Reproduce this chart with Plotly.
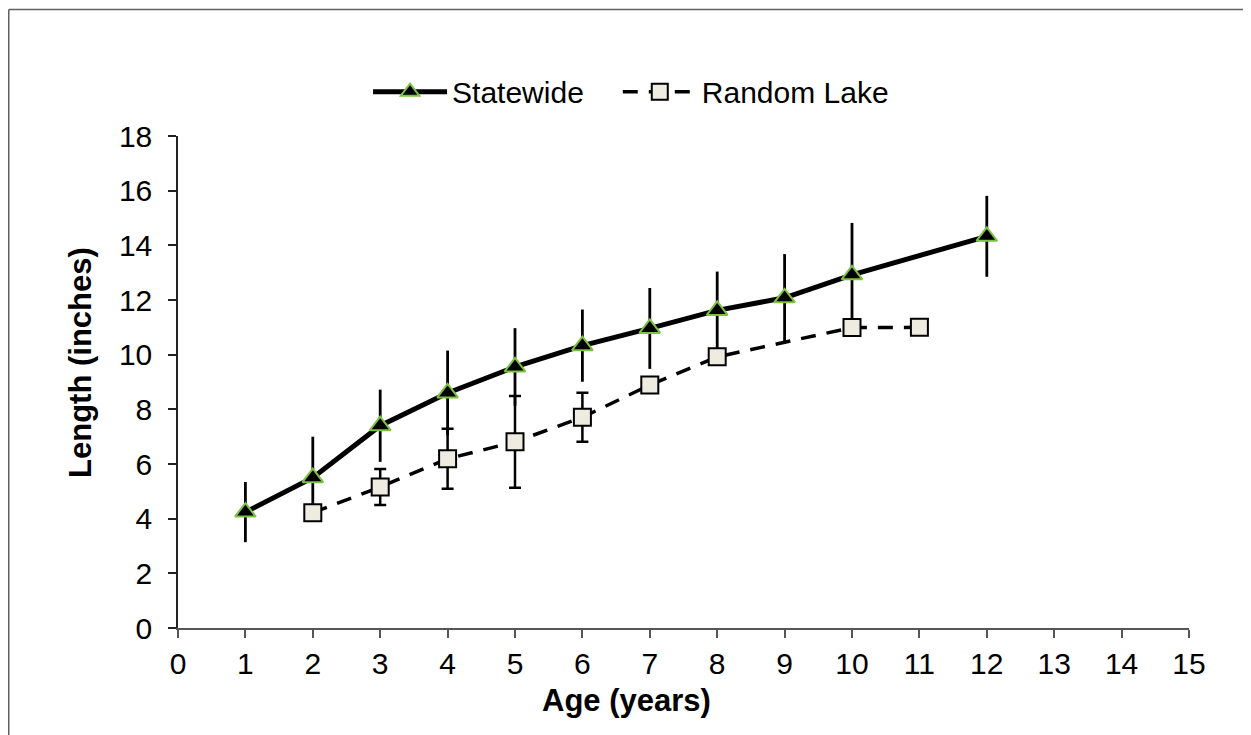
import plotly.graph_objects as go

ages = list(range(1, 13))
statewide = [4.24, 5.5, 7.4, 8.6, 9.55, 10.33, 10.96, 11.62, 12.08, 12.92, None, 14.33]
statewide_err = [1.1, 1.5, 1.32, 1.55, 1.42, 1.32, 1.48, 1.42, 1.6, 1.9, None, 1.48]

rl_ages = list(range(2, 12))
random_lake = [4.22, 5.16, 6.19, 6.81, 7.71, 8.89, 9.92, None, 10.99, 11.0]
random_lake_err = [0, 0.66, 1.1, 1.68, 0.9, 0, 0, None, 0, 0]

x_title = "Age (years)"
y_title = "Length (inches)"

font = "Liberation Sans, Arial, sans-serif"

fig = go.Figure()
fig.add_trace(go.Scatter(
    x=ages, y=statewide, name="Statewide", mode="lines+markers",
    connectgaps=True, legend="legend",
    line=dict(color="black", width=5),
    marker=dict(symbol="triangle-up", size=18, color="black",
                line=dict(color="#7DC242", width=2)),
    error_y=dict(type="data", array=statewide_err, visible=True,
                 color="black", thickness=2.8, width=0),
))
fig.add_trace(go.Scatter(
    x=rl_ages, y=random_lake, name="Random Lake", mode="lines+markers",
    connectgaps=True, legend="legend2",
    line=dict(color="black", width=3.5, dash="15px,11px"),
    marker=dict(symbol="square", size=17, color="#EEEBE0",
                line=dict(color="black", width=2)),
    error_y=dict(type="data", array=random_lake_err, visible=True,
                 color="black", thickness=2.5, width=6),
))

# page body has an 8px margin; figure coordinates are offset by 8px
W, H = 1251, 735
L, R, T, B = 170, 70, 127.5, 114.5
pw = W - L - R
ph = H - T - B

tick_font = dict(family=font, size=30, color="black")
legend_common = dict(orientation="h", xanchor="left", y=1.09, yanchor="middle",
                     font=dict(family=font, size=30), itemwidth=74,
                     bgcolor="rgba(0,0,0,0)")

fig.update_layout(
    width=W, height=H,
    paper_bgcolor="white", plot_bgcolor="white",
    margin=dict(l=L, r=R, t=T, b=B, pad=0),
    font=dict(family=font, size=30, color="black"),
    xaxis=dict(range=[0, 15], dtick=1, tick0=0,
               showline=True, linecolor="#555555", linewidth=1.5,
               ticks="outside", tickcolor="#555555", ticklen=8, tickwidth=1.5,
               showgrid=False, zeroline=False, tickfont=tick_font),
    yaxis=dict(range=[0, 18], dtick=2, tick0=0,
               showline=True, linecolor="#222222", linewidth=1.5,
               ticks="outside", tickcolor="#222222", ticklen=8, tickwidth=1.5,
               showgrid=False, zeroline=False, tickfont=tick_font,
               ticklabelstandoff=10),
    legend=dict(x=0.188, **legend_common),
    legend2=dict(x=0.435, **legend_common),
    showlegend=True,
)

fig.add_annotation(text="<b>" + x_title + "</b>", xref="paper", yref="paper",
                   x=0.444, y=-0.147, xanchor="center", yanchor="middle",
                   showarrow=False, font=dict(family=font, size=31, color="black"))
fig.add_annotation(text="<b>" + y_title + "</b>", xref="paper", yref="paper",
                   x=-0.097, y=0.5406, xanchor="center", yanchor="middle", textangle=-90,
                   showarrow=False, font=dict(family=font, size=31, color="black"))

# outer frame (top and left edges visible in the reference)
x_left = (0.75 - L) / pw
y_top = (H - B - 0.75) / ph
fig.add_shape(type="line", xref="paper", yref="paper",
              x0=x_left, x1=(W - L) / pw, y0=y_top, y1=y_top,
              line=dict(color="#606060", width=1.5))
fig.add_shape(type="line", xref="paper", yref="paper",
              x0=x_left, x1=x_left, y0=-B / ph, y1=y_top,
              line=dict(color="#606060", width=1.5))

fig.write_html("out.html")
